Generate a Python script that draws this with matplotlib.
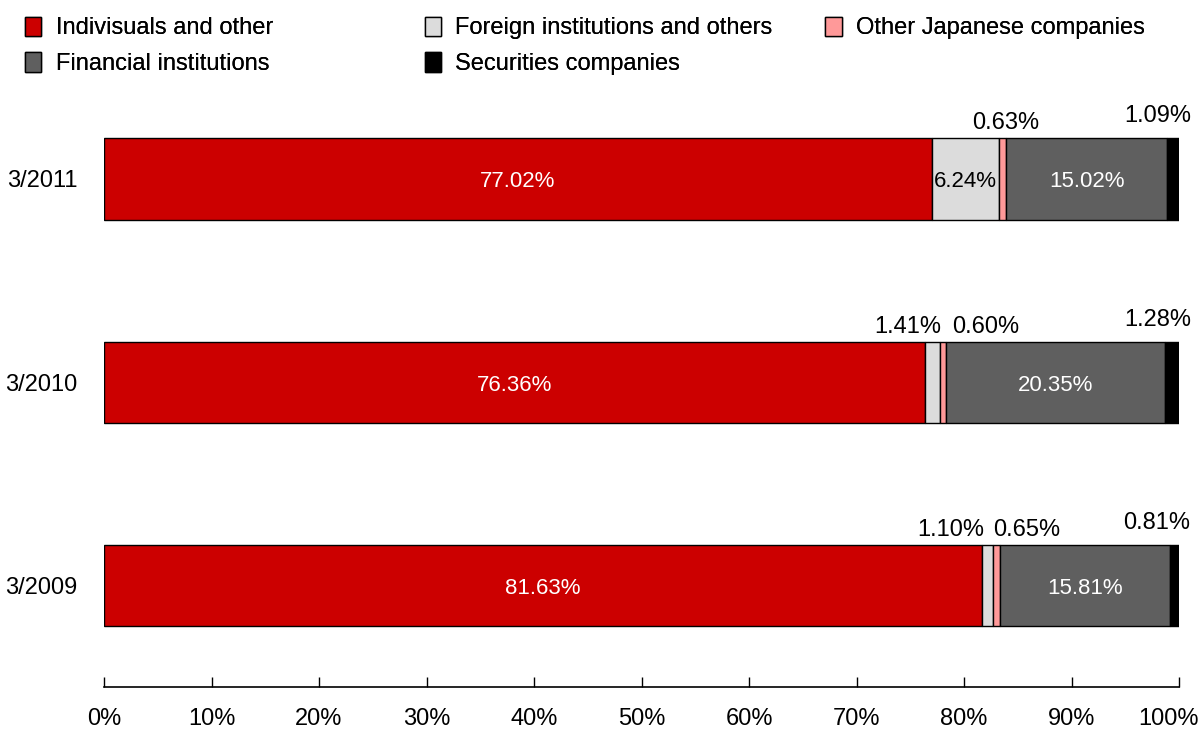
import numpy as np
import matplotlib
matplotlib.use("Agg")
import matplotlib.pyplot as plt
import matplotlib.transforms as mtransforms

plt.rcParams['font.family'] = ['Liberation Sans', 'DejaVu Sans']

# data
years = ["3/2009", "3/2010", "3/2011"]
series_names = ["Indivisuals and other", "Foreign institutions and others",
                "Other Japanese companies", "Financial institutions",
                "Securities companies"]
individuals = [81.63, 76.36, 77.02]
foreign = [1.10, 1.41, 6.24]
other_jp = [0.65, 0.60, 0.63]
financial = [15.81, 20.35, 15.02]
securities = [0.81, 1.28, 1.09]

colors = ["#cc0000", "#dcdcdc", "#ff9999", "#5f5f5f", "#000000"]
series = [individuals, foreign, other_jp, financial, securities]

fig = plt.figure(figsize=(12, 7.31), dpi=100)
ax = fig.add_axes([0.0867, 0.0602, 0.8958, 0.834])

y = np.arange(len(years))
left = np.zeros(len(years))
bars = []
for name, vals, c in zip(series_names, series, colors):
    b = ax.barh(y, vals, left=left, height=0.4, color=c, edgecolor="black",
                linewidth=1.0, label=name)
    bars.append(b)
    left = left + np.array(vals)

# labels inside the big segments
inside_color = ["white", "black", None, "white", None]
for si, b in enumerate(bars):
    for yi, rect in enumerate(b):
        v = series[si][yi]
        cx = rect.get_x() + rect.get_width() / 2
        if v > 5:
            ax.text(cx, y[yi] - 0.015, f"{v:.2f}%", ha="center", va="center",
                    fontsize=16, color=inside_color[si])

# small segments: label above the bar, nudged sideways (pixels)
nudge = {
    (1, 0): -37, (2, 0): 30, (4, 0): -18,
    (1, 1): -25, (2, 1): 42, (4, 1): -14,
    (2, 2): 3, (4, 2): -15,
}
lift = {4: 22}
for si, b in enumerate(bars):
    for yi, rect in enumerate(b):
        v = series[si][yi]
        if v > 5:
            continue
        cx = rect.get_x() + rect.get_width() / 2
        ax.annotate(f"{v:.2f}%", (cx, y[yi] + 0.2), xytext=(nudge.get((si, yi), 0),
                    lift.get(si, 15)), textcoords="offset pixels",
                    ha="center", va="center", fontsize=17)

ax.set_xlim(0, 100)
ax.set_ylim(-0.5, 2.5)
ax.set_xticks(np.arange(0, 101, 10))
ax.set_xticklabels([f"{t}%" for t in range(0, 101, 10)], fontsize=17)
ax.set_yticks(y)
ax.set_yticklabels(years, fontsize=17)
ax.tick_params(axis="y", length=0, pad=19)
ax.tick_params(axis="x", direction="in", length=7, pad=15, width=1)
for s in ["top", "right", "left"]:
    ax.spines[s].set_visible(False)
ax.spines["bottom"].set_linewidth(1.2)

# keep the last tick label inside the picture
last = ax.get_xticklabels()[-1]
last.set_transform(last.get_transform() +
                   mtransforms.ScaledTranslation(-0.1, 0, fig.dpi_scale_trans))

# legend: three columns placed by hand
h, l = ax.get_legend_handles_labels()
columns = [([0, 3], 0.007), ([1, 4], 0.340), ([2], 0.674)]
for idx, x0 in columns:
    leg = fig.legend([h[i] for i in idx], [l[i] for i in idx], ncol=1,
                     loc="upper left", bbox_to_anchor=(x0, 1.0), frameon=False,
                     fontsize=17, handlelength=0.7, handleheight=0.9,
                     handletextpad=0.6, labelspacing=0.55, borderaxespad=0.3)
    fig.add_artist(leg)

fig.savefig("out.png", dpi=100)
